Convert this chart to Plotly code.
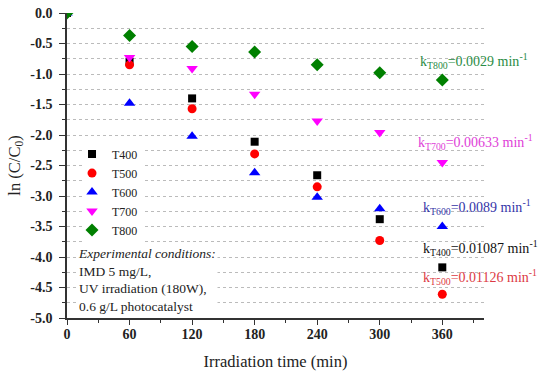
import plotly.graph_objects as go

# ---- data ----
time_min = [0, 60, 120, 180, 240, 300, 360]
T400 = [0, -0.80, -1.40, -2.11, -2.66, -3.38, -4.17]
T500 = [0, -0.85, -1.57, -2.31, -2.85, -3.73, -4.61]
T600 = [0, -1.48, -2.02, -2.62, -3.02, -3.21, -3.50]
T700 = [0, -0.73, -0.91, -1.33, -1.77, -1.96, -2.45]
T800 = [0, -0.37, -0.55, -0.64, -0.85, -0.98, -1.10]

x_ticks = [0, 60, 120, 180, 240, 300, 360]
x_tick_labels = ["0", "60", "120", "180", "240", "300", "360"]
y_ticks = [0.0, -0.5, -1.0, -1.5, -2.0, -2.5, -3.0, -3.5, -4.0, -4.5, -5.0]
y_tick_labels = ["0.0", "-0.5", "-1.0", "-1.5", "-2.0", "-2.5", "-3.0", "-3.5", "-4.0", "-4.5", "-5.0"]

rate_labels = ["T800", "T700", "T600", "T400", "T500"]
rate_values = ["0.0029", "0.00633", "0.0089", "0.01087", "0.01126"]
rate_x = [337, 335, 340, 340, 340]
rate_y = [-0.78, -2.12, -3.18, -3.85, -4.32]
rate_colors = ["#2a8c45", "#e040d8", "#3535a8", "#111111", "#dc3a44"]

series = [
    ("T400", T400, "square", "#000000", 8),
    ("T500", T500, "circle", "#ff0000", 9),
    ("T600", T600, "triangle-up", "#0000ff", 10),
    ("T700", T700, "triangle-down", "#ff00ff", 10),
    ("T800", T800, "diamond", "#008000", 10),
]

FONT = "Liberation Serif, Times New Roman, serif"

fig = go.Figure()
for name, vals, sym, col, size in series:
    fig.add_trace(go.Scatter(
        x=time_min, y=vals, mode="markers", name=name,
        marker=dict(symbol=sym, color=col, size=size, line=dict(width=0)),
    ))

for lab, val, xx, yy, col in zip(rate_labels, rate_values, rate_x, rate_y, rate_colors):
    fig.add_annotation(
        x=xx, y=yy, xref="x", yref="y", xanchor="left", yanchor="middle",
        text=f"k<sub>{lab}</sub>={val} min<sup>-1</sup>",
        showarrow=False, font=dict(family=FONT, size=14, color=col),
    )

fig.add_annotation(
    x=0.017, y=0.235, xref="paper", yref="paper", xanchor="left", yanchor="top",
    xshift=2, yshift=2,
    align="left", showarrow=False, bgcolor="white",
    text="<i>Experimental conditions:</i><br>IMD 5 mg/L,<br>UV irradiation (180W),<br>0.6 g/L photocatalyst",
    font=dict(family=FONT, size=13.5, color="#222222"),
)

fig.update_layout(
    width=550, height=372,
    margin=dict(l=67, r=66, t=13, b=54, autoexpand=False),
    plot_bgcolor="white", paper_bgcolor="white",
    font=dict(family=FONT, color="#222222", size=14),
    showlegend=True,
    legend=dict(
        x=0.036, y=0.585, xanchor="left", yanchor="top",
        bgcolor="white", font=dict(family=FONT, size=12, color="#222222"),
        itemwidth=30, indentation=-10,
    ),
    xaxis=dict(
        range=[0, 400], showline=True, linecolor="#333333", linewidth=1.5,
        showgrid=False, zeroline=False, automargin=False,
        tickvals=x_ticks, ticktext=[f"<b>{t}</b>" for t in x_tick_labels],
        ticks="outside", ticklen=5, tickcolor="#333333", ticklabelstandoff=-3,
        tickfont=dict(family=FONT, size=14, color="#222222"),
        minor=dict(dtick=30, ticks="outside", ticklen=3, tickcolor="#333333", showgrid=False),
        title=dict(text="Irradiation time (min)", font=dict(family=FONT, size=16.5, color="#222222")),
    ),
    yaxis=dict(
        range=[-5, 0], showline=True, linecolor="#333333", linewidth=1.5,
        zeroline=False, automargin=False,
        tickvals=y_ticks, ticktext=[f"<b>{t}</b>" for t in y_tick_labels],
        ticks="outside", ticklen=6, tickcolor="#333333", ticklabelstandoff=4,
        showgrid=True, gridcolor="#bbbbbb", griddash="dot", gridwidth=1,
        tickfont=dict(family=FONT, size=14, color="#222222"),
        minor=dict(dtick=0.25, ticks="outside", ticklen=3, tickcolor="#333333",
                   showgrid=True, gridcolor="#bbbbbb", griddash="dot", gridwidth=1),
        title=dict(text="ln (C/C<sub>0</sub>)", standoff=6,
                   font=dict(family=FONT, size=16.5, color="#222222")),
    ),
)

fig.write_html("out.html", config={"displayModeBar": False},
               post_script="document.body.style.margin='0';")
